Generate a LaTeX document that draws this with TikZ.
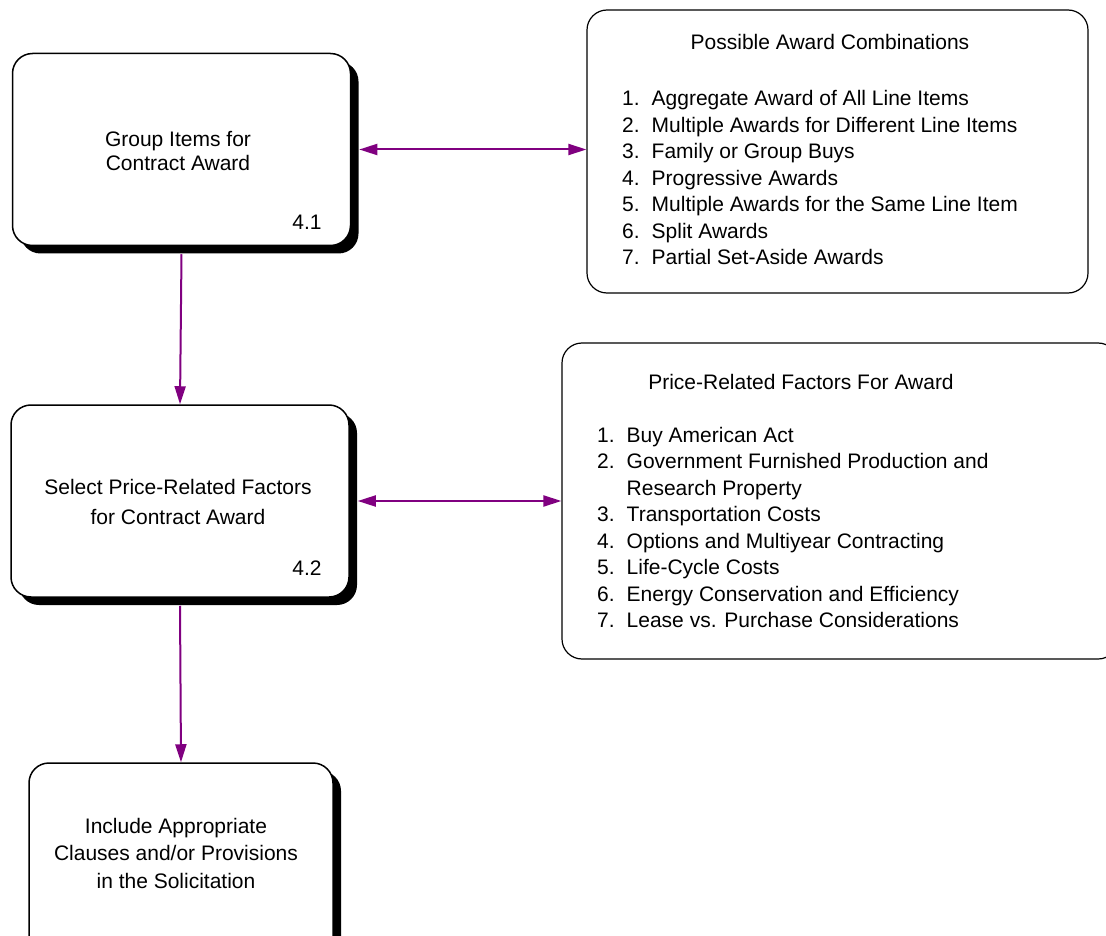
\documentclass[tikz,border=0pt]{standalone}
\usepackage{fontspec}
\setmainfont{Liberation Sans}
\usetikzlibrary{arrows.meta, shadows}
\definecolor{linkpurple}{RGB}{128,0,128}
\newcommand{\awfont}[1]{\fontsize{21}{#1}\selectfont}

\begin{document}
\begin{tikzpicture}[x=1pt, y=-1pt, font=\awfont{24}]

  % Styles for boxes and connectors
  \tikzset{
    taskbox/.style={
      draw, line width=1.5pt, rounded corners=20pt, fill=white,
      minimum width=338pt, minimum height=192pt, inner sep=0pt,
      drop shadow={shadow xshift=8pt, shadow yshift=-8pt, fill=black, opacity=1}
    },
    listbox/.style={
      draw, line width=1.2pt, rounded corners=20pt, fill=white, inner sep=0pt
    },
    flow/.style={
      draw=linkpurple, line width=2pt,
      -{Triangle[length=18pt,width=11pt]}
    },
    link/.style={
      flow, {Triangle[length=18pt,width=11pt]}-{Triangle[length=18pt,width=11pt]}
    }
  }

  % Page
  \fill[white] (0,0) rectangle (1106,936);
  \useasboundingbox (0,0) rectangle (1106,936);

  % Process boxes
  \node[taskbox] (grp) at (181.5,149.5) {};
  \node[taskbox] (price) at (180,501) {};
  \node[taskbox, minimum width=304pt, minimum height=200pt] (incl) at (181,863) {};

  % List boxes
  \node[listbox, minimum width=501pt, minimum height=283pt] (combos) at (837.5,151.5) {};
  \node[listbox, minimum width=556pt, minimum height=316pt] (factors) at (840,501) {};

  % Box texts
  \node[align=center, font=\awfont{24}] (grp text) at (178,151) {Group Items for\\Contract Award};
  \node (grp num) at (307,222) {4.1};
  \node[align=center, font=\awfont{30}] (price text) at (178,502) {Select Price-Related Factors\\for Contract Award};
  \node (price num) at (307,568) {4.2};
  \node[align=center, font=\awfont{27.5}] (incl text) at (176,853) {Include Appropriate\\Clauses and/or Provisions\\in the Solicitation};

  % Lists
  \node[anchor=base] (combos title) at (830,50) {Possible Award Combinations};
  \node[anchor=base west, inner sep=0pt, font=\awfont{26.5}] (combos list) at (622,106) {%
    \begin{tabular}[t]{@{}l@{\hspace{12pt}}l@{}}
      1. & Aggregate Award of All Line Items\\
      2. & Multiple Awards for Different Line Items\\
      3. & Family or Group Buys\\
      4. & Progressive Awards\\
      5. & Multiple Awards for the Same Line Item\\
      6. & Split Awards\\
      7. & Partial Set-Aside Awards
    \end{tabular}};

  \node[anchor=base] (factors title) at (801,389) {Price-Related Factors For Award};
  \node[anchor=base west, inner sep=0pt, font=\awfont{26.5}] (factors list) at (597,442) {%
    \begin{tabular}[t]{@{}l@{\hspace{12pt}}l@{}}
      1. & Buy American Act\\
      2. & Government Furnished Production and\\
         & Research Property\\
      3. & Transportation Costs\\
      4. & Options and Multiyear Contracting\\
      5. & Life-Cycle Costs\\
      6. & Energy Conservation and Efficiency\\
      7. & Lease vs. Purchase Considerations
    \end{tabular}};

  % Connectors
  \draw[flow] ([yshift=-8pt]grp.south) -- (price.north);
  \draw[flow] ([yshift=-8pt]price.south) -- (incl.north);
  \draw[link] ([xshift=8pt]grp.east) -- (grp.east -| combos.west);
  \draw[link] ([xshift=8pt]price.east) -- (price.east -| factors.west);

\end{tikzpicture}
\end{document}
